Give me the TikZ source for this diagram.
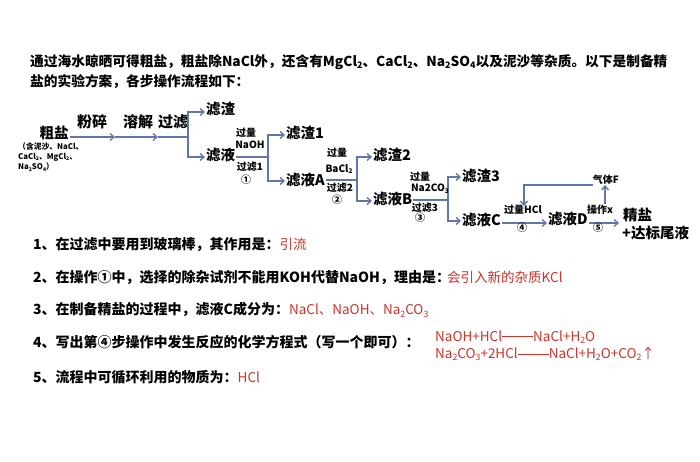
\documentclass[tikz,border=0pt]{standalone}
\usepackage{fontspec}
\usepackage{graphicx}
\setmainfont{Noto Sans CJK SC}
\usetikzlibrary{arrows.meta}
\definecolor{flowc}{RGB}{98,118,168}
\definecolor{ansred}{RGB}{205,52,42}
\newcommand{\chsub}[1]{\raisebox{-0.35ex}{\scalebox{0.65}{#1}}}
\begin{document}
\begin{tikzpicture}[x=1pt,y=-1pt,
  intro/.style={font=\fontsize{13.7}{16}\selectfont\bfseries, inner sep=0pt, anchor=west},
  ques/.style={font=\fontsize{14}{16}\selectfont\bfseries, inner sep=0pt, anchor=west},
  ans/.style={font=\fontsize{13.5}{16}\selectfont, text=ansred, inner sep=0pt, anchor=west},
  big/.style={font=\fontsize{14.5}{16}\selectfont\bfseries, inner sep=1pt},
  oplab/.style={font=\fontsize{15}{16}\selectfont\bfseries, inner sep=0pt},
  small/.style={font=\fontsize{10}{11}\selectfont\bfseries, inner sep=0pt},
  tiny/.style={font=\fontsize{7.8}{9}\selectfont\bfseries, inner sep=0pt, anchor=west},
  flow/.style={draw=flowc, line width=1.3pt},
  arr/.style={flow, -{Straight Barb[length=4pt,width=7pt]}}
]
\useasboundingbox (0,0) rectangle (700,461);
\fill[white] (0,0) rectangle (700,461);

% intro
\node[intro] (intro1) at (30,62) {通过海水晾晒可得粗盐，粗盐除NaCl外，还含有MgCl\chsub{2}、CaCl\chsub{2}、Na\chsub{2}SO\chsub{4}以及泥沙等杂质。以下是制备精};
\node[intro] (intro2) at (30,82) {盐的实验方案，各步操作流程如下：};

% crude salt
\node[big] (cy) at (54,133) {粗盐};
\node[tiny] (cys1) at (18,147) {（含泥沙、NaCl、};
\node[tiny] (cys2) at (18,157) {CaCl\chsub{2}、MgCl\chsub{2}、};
\node[tiny] (cys3) at (18,167) {Na\chsub{2}SO\chsub{4}）};

\node[oplab] (fs) at (92,122) {粉碎};
\node[oplab] (rj) at (138,122) {溶解};
\node[oplab] (gl) at (173,122) {过滤};

\coordinate (c0) at (70,137);
\coordinate (a1) at (115,137);
\coordinate (a2) at (158,137);
\coordinate (s1) at (188,137);
\coordinate (s1t) at (188,112);
\coordinate (s1b) at (188,157);
\node[big, anchor=west] (zz0) at (205,109) {滤渣};
\node[big, anchor=west] (zy0) at (205,155) {滤液};
\draw[arr] (c0) -- (a1);
\draw[arr] (a1) -- (a2);
\draw[flow] (a2) -- (s1);
\draw[arr] (s1) -- (s1t) -- (s1t -| zz0.west);
\draw[arr] (s1) -- (s1b) -- (s1b -| zy0.west);

% stage 1
\coordinate (s2) at (268,157);
\coordinate (s2t) at (268,135);
\coordinate (s2b) at (268,181);
\node[big, anchor=west] (zz1) at (285,133) {滤渣1};
\node[big, anchor=west] (zyA) at (285,180) {滤液A};
\draw[flow] (zy0.east |- s2) -- (s2);
\draw[arr] (s2) -- (s2t) -- (s2t -| zz1.west);
\draw[arr] (s2) -- (s2b) -- (s2b -| zyA.west);
\node[small] (l1a) at (246,133) {过量};
\node[small] (l1b) at (250,145) {NaOH};
\node[small] (l1c) at (250,167) {过滤1};
\node[small] (l1d) at (246,180) {①};

% stage 2
\coordinate (s3) at (357,180);
\coordinate (s3t) at (357,157);
\coordinate (s3b) at (357,201);
\node[big, anchor=west] (zz2) at (372,155) {滤渣2};
\node[big, anchor=west] (zyB) at (372,199) {滤液B};
\draw[flow] (zyA.east |- s3) -- (s3);
\draw[arr] (s3) -- (s3t) -- (s3t -| zz2.west);
\draw[arr] (s3) -- (s3b) -- (s3b -| zyB.west);
\node[small] (l2a) at (337,153) {过量};
\node[small] (l2b) at (339,169) {BaCl\chsub{2}};
\node[small] (l2c) at (340,188) {过滤2};
\node[small] (l2d) at (337,200) {②};

% stage 3
\coordinate (s4) at (448,200);
\coordinate (s4t) at (448,177);
\coordinate (s4b) at (448,221);
\node[big, anchor=west] (zz3) at (461,176) {滤渣3};
\node[big, anchor=west] (zyC) at (461,220) {滤液C};
\draw[flow] (zyB.east |- s4) -- (s4);
\draw[arr] (s4) -- (s4t) -- (s4t -| zz3.west);
\draw[arr] (s4) -- (s4b) -- (s4b -| zyC.west);
\node[small] (l3a) at (420,177) {过量};
\node[small] (l3b) at (430,189) {Na2CO\chsub{3}};
\node[small] (l3c) at (425,208) {过滤3};
\node[small] (l3d) at (420,218) {③};

% stage 4
\coordinate (h4) at (500,223);
\node[big, anchor=west] (zyD) at (547,219) {滤液D};
\draw[arr] (zyC.east |- h4) -- (zyD.west |- h4);
\node[small] (l4a) at (523,210) {过量HCl};
\node[small] (l4b) at (522,228) {④};
\coordinate (e5) at (619,223);
\draw[arr] (zyD.east |- e5) -- (e5);
\node[big, anchor=west] (js) at (622,215) {精盐};
\node[big, anchor=west] (wy) at (621,233) {+达标尾液};
\node[small] (l5a) at (600,210) {操作x};
\node[small] (l5b) at (598,228) {⑤};
\node[small] (gasF) at (606,180) {气体F};
\coordinate (g0) at (605,204);
\draw[arr] (g0) -- (gasF.south -| g0);
\coordinate (r1) at (524,185);
\coordinate (r2) at (524,206);
\draw[arr] (gasF.west |- r1) -- (r1) -- (r2);

% questions
\node[ques] (q1) at (33,245) {1、在过滤中要用到玻璃棒，其作用是：\textcolor{ansred}{\fontsize{13.5}{16}\selectfont\mdseries 引流}};
\node[ques] (q2) at (33,277) {2、在操作①中，选择的除杂试剂不能用KOH代替NaOH，理由是：};
\node[ans] (a2t) at (447,277) {会引入新的杂质KCl};
\node[ques] (q3) at (33,310) {3、在制备精盐的过程中，滤液C成分为：\textcolor{ansred}{\fontsize{13.5}{16}\selectfont\mdseries NaCl、NaOH、Na\chsub{2}CO\chsub{3}}};
\node[ques] (q4) at (33,342) {4、写出第④步操作中发生反应的化学方程式（写一个即可）：};
\node[ans] (eq1) at (435,337) {NaOH+HCl\rule[0.32em]{2.3em}{0.5pt}NaCl+H\chsub{2}O};
\node[ans] (eq2) at (435,354) {Na\chsub{2}CO\chsub{3}+2HCl\rule[0.32em]{2.3em}{0.5pt}NaCl+H\chsub{2}O+CO\chsub{2}↑};
\node[ques] (q5) at (33,377) {5、流程中可循环利用的物质为：\textcolor{ansred}{\fontsize{13.5}{16}\selectfont\mdseries HCl}};
\end{tikzpicture}
\end{document}
